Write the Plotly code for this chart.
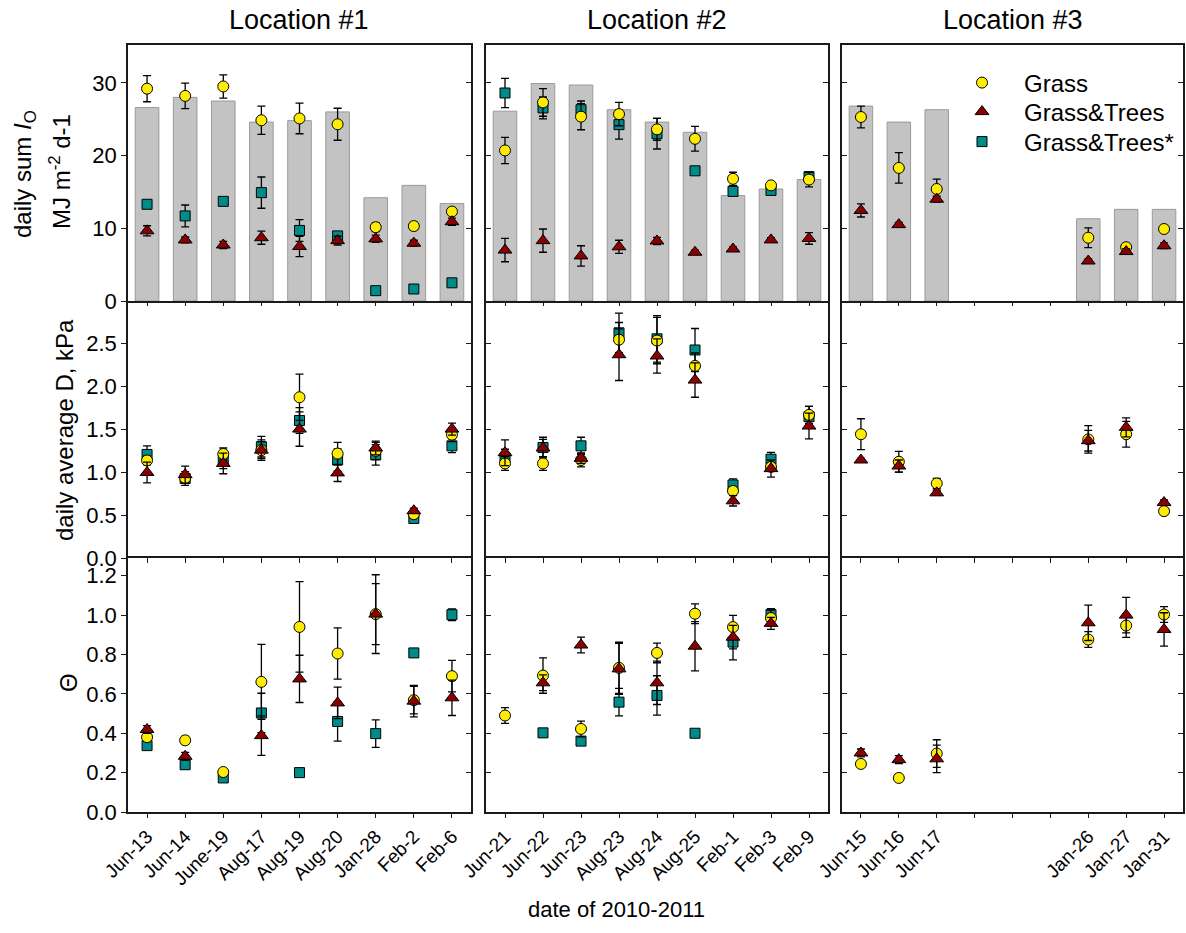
import plotly.graph_objects as go

# ---- tick labels (dates) for each location ----
dates_loc1 = ["Jun-13", "Jun-14", "June-19", "Aug-17", "Aug-19", "Aug-20", "Jan-28", "Feb-2", "Feb-6"]
dates_loc2 = ["Jun-21", "Jun-22", "Jun-23", "Aug-23", "Aug-24", "Aug-25", "Feb-1", "Feb-3", "Feb-9"]
dates_loc3 = ["Jun-15", "Jun-16", "Jun-17", "", "", "", "Jan-26", "Jan-27", "Jan-31"]

# ---- daily sum of open-sky radiation I_O (bars), MJ m-2 d-1, per location ----
io_open = [
    [26.6, 28.0, 27.5, 24.6, 24.8, 26.0, 14.2, 15.9, 13.4],
    [26.1, 29.9, 29.7, 26.3, 24.6, 23.2, 14.5, 15.4, 16.7],
    [26.8, 24.6, 26.3, None, None, None, 11.3, 12.6, 12.6],
]

# ---- daily sum of radiation at each surface ----
io_grass = [
    [29.2, 28.2, 29.5, 24.85, 25.1, 24.3, 10.15, 10.3, 12.3],
    [20.7, 27.3, 25.35, 25.7, 23.6, 22.3, 16.8, 15.9, 16.7],
    [25.3, 18.3, 15.4, None, None, None, 8.7, 7.4, 9.9],
]
io_grass_err = [
    [1.8, 1.75, 1.6, 1.95, 2.1, 2.2, 0.6, 0.5, 0.5],
    [1.8, 1.9, 1.8, 1.6, 1.5, 1.7, 0.9, 0.5, 1.0],
    [1.5, 2.1, 1.35, 0, 0, 0, 1.35, 0.3, 0.2],
]
io_trees = [
    [9.65, 8.4, 7.7, 8.7, 7.5, 8.3, 8.55, 7.95, 10.9],
    [7.0, 8.3, 6.2, 7.45, 8.25, 6.7, 7.15, 8.4, 8.6],
    [12.45, 10.5, 14.0, None, None, None, 5.5, 6.8, 7.6],
]
io_trees_err = [
    [0.7, 0.4, 0.5, 0.9, 1.4, 0.6, 0.5, 0.4, 0.5],
    [1.6, 1.6, 1.4, 0.9, 0.5, 0.3, 0.3, 0.3, 0.8],
    [0.9, 0.3, 0.4, 0, 0, 0, 0.3, 0.4, 0.4],
]
io_trees_s = [
    [13.3, 11.7, 13.7, 14.9, 9.7, 8.95, 1.42, 1.65, 2.5],
    [28.6, 26.55, 26.3, 24.25, 23.0, 17.9, 15.07, 15.2, 17.1],
    [None] * 9,
]
io_trees_s_err = [
    [0.3, 1.5, 0.3, 2.15, 1.5, 0.5, 0.1, 0.1, 0.1],
    [2.0, 1.5, 1.2, 2.0, 2.1, 0.2, 0.4, 0.3, 0.3],
    [0] * 9,
]

# ---- daily average vapour pressure deficit D, kPa ----
d_grass = [
    [1.135, 0.93, 1.21, 1.255, 1.87, 1.215, 1.245, 0.51, 1.435],
    [1.10, 1.10, 1.14, 2.54, 2.53, 2.235, 0.78, 1.06, 1.665],
    [1.44, 1.12, 0.867, None, None, None, 1.38, 1.44, 0.545],
]
d_grass_err = [
    [0.05, 0.05, 0.07, 0.1, 0.27, 0.13, 0.1, 0.03, 0.08],
    [0.08, 0.08, 0.08, 0.2, 0.27, 0.15, 0.05, 0.05, 0.1],
    [0.18, 0.12, 0.06, 0, 0, 0, 0.16, 0.15, 0.02],
]
d_trees = [
    [0.995, 0.97, 1.10, 1.255, 1.50, 0.99, 1.28, 0.55, 1.50],
    [1.225, 1.28, 1.16, 2.365, 2.35, 2.07, 0.665, 1.04, 1.535],
    [1.14, 1.07, 0.758, None, None, None, 1.365, 1.52, 0.645],
]
d_trees_err = [
    [0.12, 0.1, 0.12, 0.12, 0.2, 0.1, 0.08, 0.03, 0.07],
    [0.15, 0.1, 0.06, 0.3, 0.2, 0.2, 0.06, 0.1, 0.15],
    [0.02, 0.07, 0.03, 0, 0, 0, 0.12, 0.11, 0.03],
]
d_trees_s = [
    [1.205, 0.925, 1.14, 1.295, 1.60, 1.14, 1.2, 0.46, 1.305],
    [1.165, 1.285, 1.305, 2.62, 2.55, 2.42, 0.85, 1.15, 1.645],
    [None] * 9,
]
d_trees_s_err = [
    [0.1, 0.08, 0.1, 0.12, 0.15, 0.13, 0.12, 0.03, 0.08],
    [0.1, 0.12, 0.1, 0.23, 0.27, 0.25, 0.07, 0.08, 0.12],
    [0] * 9,
]

# ---- Theta ----
th_grass = [
    [0.38, 0.364, 0.203, 0.661, 0.94, 0.805, 1.005, 0.568, 0.69],
    [0.49, 0.693, 0.422, 0.732, 0.808, 1.007, 0.939, 0.985, None],
    [0.244, 0.173, 0.297, None, None, None, 0.876, 0.947, 1.003],
]
th_grass_err = [
    [0.02, 0.02, 0.015, 0.19, 0.23, 0.13, 0.2, 0.07, 0.08],
    [0.04, 0.09, 0.04, 0.13, 0.05, 0.05, 0.06, 0.04, 0],
    [0.01, 0.01, 0.07, 0, 0, 0, 0.04, 0.06, 0.04],
]
th_trees = [
    [0.419, 0.283, None, 0.388, 0.676, 0.554, 1.005, 0.563, 0.58],
    [None, 0.656, 0.848, 0.727, 0.656, 0.842, 0.888, 0.958, None],
    [0.3, 0.266, 0.27, None, None, None, 0.961, 1.0, 0.927],
]
th_trees_err = [
    [0.02, 0.02, 0, 0.1, 0.12, 0.08, 0.155, 0.08, 0.09],
    [0, 0.04, 0.04, 0.13, 0.11, 0.125, 0.06, 0.03, 0],
    [0.02, 0.02, 0.07, 0, 0, 0, 0.09, 0.09, 0.085],
]
th_trees_s = [
    [0.337, 0.24, 0.173, 0.503, 0.2, 0.46, 0.398, 0.808, 1.002],
    [None, 0.402, 0.36, 0.558, 0.592, 0.4, 0.863, 1.003, None],
    [None] * 9,
]
th_trees_s_err = [
    [0.01, 0.02, 0.01, 0.1, 0.01, 0.1, 0.07, 0.01, 0.03],
    [0, 0.02, 0.01, 0.07, 0.1, 0.01, 0.09, 0.03, 0],
    [0] * 9,
]

# ---- styling ----
FONT = "Liberation Sans, Arial, sans-serif"
AXIS_COLOR = "#1a1a1a"
C_GRASS = "#ffec00"
C_TREES = "#8b0000"
C_TREES_S = "#008b8b"
BAR_FILL = "#c3c3c3"
BAR_LINE = "#9a9a9a"
LW = 1.5

W, H = 1186, 933
col_px = [(128, 471), (486, 828), (842, 1183)]
row_px = [(45, 301), (301, 558), (558, 812)]  # top, bottom in pixels
col_dom = [[a / W, b / W] for a, b in col_px]
row_dom = [[1 - b / H, 1 - a / H] for a, b in row_px]

date_labels = [dates_loc1, dates_loc2, dates_loc3]
positions = list(range(1, 10))

y_ranges = [[0, 35.2], [0, 2.99], [0, 1.29]]
y_ticks = [
    ([0, 10, 20, 30], ["0", "10", "20", "30"]),
    ([0, 0.5, 1.0, 1.5, 2.0, 2.5], ["0.0", "0.5", "1.0", "1.5", "2.0", "2.5"]),
    ([0, 0.2, 0.4, 0.6, 0.8, 1.0, 1.2], ["0.0", "0.2", "0.4", "0.6", "0.8", "1.0", "1.2"]),
]

rows = [
    (io_grass, io_grass_err, io_trees, io_trees_err, io_trees_s, io_trees_s_err),
    (d_grass, d_grass_err, d_trees, d_trees_err, d_trees_s, d_trees_s_err),
    (th_grass, th_grass_err, th_trees, th_trees_err, th_trees_s, th_trees_s_err),
]

fig = go.Figure()
layout = {}

def err(arr):
    return dict(type="data", array=arr, color="black", thickness=1.3, width=4)

for r in range(3):
    g, ge, t, te, s, se = rows[r]
    for c in range(3):
        k = r * 3 + c + 1
        xa, ya = f"x{k}", f"y{k}"
        if r == 0:
            fig.add_trace(go.Bar(
                x=positions, y=io_open[c], width=0.62, xaxis=xa, yaxis=ya,
                marker=dict(color=BAR_FILL, line=dict(color=BAR_LINE, width=1)),
                showlegend=False, hoverinfo="skip",
            ))
        first = (r == 0 and c == 0)
        fig.add_trace(go.Scatter(
            x=positions, y=s[c], mode="markers", xaxis=xa, yaxis=ya, error_y=err(se[c]),
            marker=dict(symbol="square", size=10, color=C_TREES_S, line=dict(color="black", width=1)),
            name="Grass&Trees*", legend="legend3", showlegend=first, cliponaxis=False,
        ))
        fig.add_trace(go.Scatter(
            x=positions, y=g[c], mode="markers", xaxis=xa, yaxis=ya, error_y=err(ge[c]),
            marker=dict(symbol="circle", size=11, color=C_GRASS, line=dict(color="black", width=1)),
            name="Grass", legend="legend", showlegend=first, cliponaxis=False,
        ))
        fig.add_trace(go.Scatter(
            x=positions, y=t[c], mode="markers", xaxis=xa, yaxis=ya, error_y=err(te[c]),
            marker=dict(symbol="triangle-up", size=12, color=C_TREES, line=dict(color="black", width=1)),
            name="Grass&Trees", legend="legend2", showlegend=first, cliponaxis=False,
        ))

        # x axis: one line per shared border
        xdict = dict(domain=col_dom[c], anchor=ya, range=[0.5, 9.5], tickvals=positions,
                     linecolor=AXIS_COLOR, linewidth=LW,
                     showgrid=False, zeroline=False, showticklabels=False,
                     ticklen=5, tickwidth=1.2, tickcolor=AXIS_COLOR)
        if r == 0:
            xdict.update(side="bottom", ticks="", showline=True, mirror=True)
        elif r == 1:
            xdict.update(side="top", ticks="inside", showline=False)
        else:
            xdict.update(side="top", ticks="inside", showline=True, mirror=True)
        layout[f"xaxis{k}"] = xdict

        # y axis
        tv, tt = y_ticks[r]
        ydict = dict(domain=row_dom[r], anchor=xa, range=y_ranges[r], tickvals=tv, ticktext=tt,
                     showline=True, linecolor=AXIS_COLOR, linewidth=LW,
                     showgrid=False, zeroline=False, ticklen=5, tickwidth=1.2, tickcolor=AXIS_COLOR,
                     tickfont=dict(family=FONT, size=22, color="black"))
        if c == 0:
            ydict.update(ticks="outside", mirror=True, showticklabels=True)
        else:
            ydict.update(ticks="inside", mirror="ticks", showticklabels=False)
        layout[f"yaxis{k}"] = ydict

# extra axes: inside ticks on the right edge of the first column
for r in range(3):
    k = r * 3 + 1
    n = 10 + r
    tv, _ = y_ticks[r]
    layout[f"yaxis{n}"] = dict(overlaying=f"y{k}", anchor=f"x{k}", side="right", range=y_ranges[r],
                               tickvals=tv, ticks="inside", ticklen=5, tickwidth=1.2, tickcolor=AXIS_COLOR,
                               showticklabels=False, showline=False, showgrid=False, zeroline=False)
    fig.add_trace(go.Scatter(x=[None], y=[None], xaxis=f"x{k}", yaxis=f"y{n}",
                             showlegend=False, hoverinfo="skip"))

# extra axes under the bottom row: outside ticks at every date slot,
# plus the rotated date labels where a date exists
for c in range(3):
    k = 6 + c + 1
    n_ticks = 13 + c
    n_lab = 16 + c
    layout[f"xaxis{n_ticks}"] = dict(overlaying=f"x{k}", anchor=f"y{k}", side="bottom", range=[0.5, 9.5],
                                     tickvals=positions, ticks="outside", showticklabels=False,
                                     ticklen=5, tickwidth=1.2, tickcolor=AXIS_COLOR,
                                     showline=False, showgrid=False, zeroline=False)
    lab_pos = [p for p, lab in zip(positions, date_labels[c]) if lab]
    lab_txt = [lab for lab in date_labels[c] if lab]
    layout[f"xaxis{n_lab}"] = dict(overlaying=f"x{k}", anchor=f"y{k}", side="bottom", range=[0.5, 9.5],
                                   tickvals=lab_pos, ticktext=lab_txt, ticks="outside",
                                   ticklen=5, tickwidth=1.2, tickcolor=AXIS_COLOR, tickangle=-45,
                                   tickfont=dict(family=FONT, size=19, color="black"),
                                   showline=False, showgrid=False, zeroline=False)
    for n in (n_ticks, n_lab):
        fig.add_trace(go.Scatter(x=[None], y=[None], xaxis=f"x{n}", yaxis=f"y{k}",
                                 showlegend=False, hoverinfo="skip"))

annotations = []
for c, name in enumerate(["Location #1", "Location #2", "Location #3"]):
    annotations.append(dict(text=name, x=sum(col_dom[c]) / 2, y=1 - 20 / H, xref="paper", yref="paper",
                            showarrow=False, xanchor="center", yanchor="middle",
                            font=dict(family=FONT, size=27, color="black")))

def ytitle(text, xpx, ypx, size=24):
    annotations.append(dict(text=text, x=xpx / W, y=1 - ypx / H, xref="paper", yref="paper",
                            showarrow=False, textangle=-90, xanchor="center", yanchor="middle",
                            font=dict(family=FONT, size=size, color="black")))

ytitle("daily sum <i>I</i><sub>O</sub>", 24, 174)
ytitle("MJ m<sup>-2</sup> d-1", 60, 172)
ytitle("daily average D, kPa", 64, 430)
ytitle("\u0398", 68, 683)

annotations.append(dict(text="date of 2010-2011", x=616 / W, y=1 - 909 / H, xref="paper", yref="paper",
                        showarrow=False, xanchor="center", yanchor="middle",
                        font=dict(family=FONT, size=22, color="black")))

def legend_box(ypx):
    return dict(x=940 / W, y=1 - ypx / H, xanchor="left", yanchor="middle",
                bgcolor="rgba(0,0,0,0)", font=dict(family=FONT, size=24, color="black"),
                itemwidth=74)

fig.update_layout(
    width=W, height=H,
    margin=dict(l=0, r=0, t=0, b=0, autoexpand=False),
    paper_bgcolor="white", plot_bgcolor="white",
    font=dict(family=FONT, color="black"),
    annotations=annotations,
    legend=legend_box(83),
    legend2=legend_box(112),
    legend3=legend_box(142),
    **layout,
)

fig.write_html("out.html")
